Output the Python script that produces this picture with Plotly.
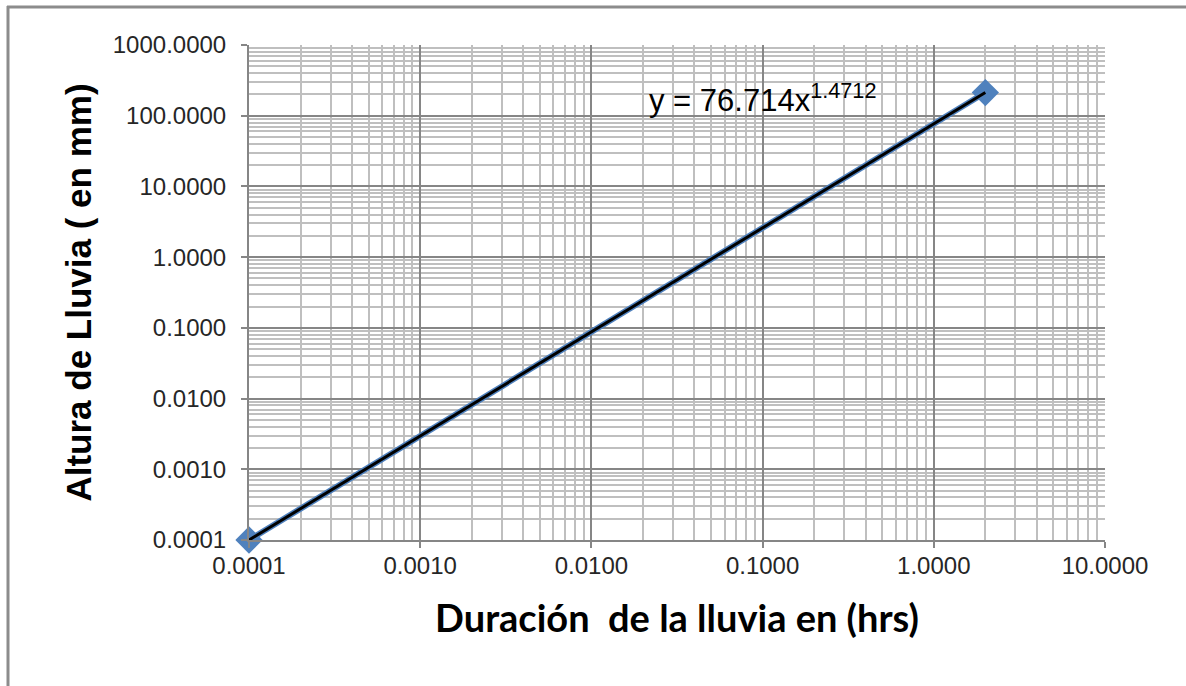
import plotly.graph_objects as go

# Data
duracion_hrs = [0.0001, 2.0]
altura_mm = [0.0001, 212.7]
trend_a = 76.714
trend_b = 1.4712
trend_x = [0.0001, 2.0]
trend_y = [trend_a * x ** trend_b for x in trend_x]

x_tickvals = [0.0001, 0.001, 0.01, 0.1, 1, 10]
x_ticktext = ["0.0001", "0.0010", "0.0100", "0.1000", "1.0000", "10.0000"]
y_tickvals = [0.0001, 0.001, 0.01, 0.1, 1, 10, 100, 1000]
y_ticktext = ["0.0001", "0.0010", "0.0100", "0.1000", "1.0000", "10.0000", "100.0000", "1000.0000"]

W, H = 1186, 686
L, R, T, B = 249, 1105, 45, 540

fig = go.Figure()
fig.add_trace(go.Scatter(
    x=duracion_hrs, y=altura_mm, mode="lines+markers",
    line=dict(color="#4F81BD", width=6),
    marker=dict(symbol="diamond", size=21, color="#4F81BD"),
    cliponaxis=False, showlegend=False))
fig.add_trace(go.Scatter(
    x=trend_x, y=trend_y, mode="lines",
    line=dict(color="#000000", width=3),
    cliponaxis=False, showlegend=False))

axis_common = dict(
    type="log", showline=True, linecolor="#868686", linewidth=2,
    ticks="outside", ticklen=6, tickcolor="#868686", tickwidth=2,
    showgrid=True, gridcolor="#868686", gridwidth=2,
    minor=dict(dtick="D1", showgrid=True, gridcolor="#BFBFBF", gridwidth=2, ticks=""),
    tickfont=dict(family="Liberation Sans, Arial", size=24, color="#262626"),
    zeroline=False, mirror=False,
)

fig.update_layout(
    width=W, height=H,
    margin=dict(l=L, r=W - R, t=T, b=H - B),
    paper_bgcolor="white", plot_bgcolor="white",
    xaxis=dict(axis_common, range=[-4, 1], tickvals=x_tickvals, ticktext=x_ticktext,
               ticklabelstandoff=-3,
               title=dict(text="<b>Duración&nbsp; de la lluvia en (hrs)</b>",
                          font=dict(family="Lato, Open Sans", size=38, color="#000000"),
                          standoff=28)),
    yaxis=dict(axis_common, range=[-4, 3], tickvals=y_tickvals, ticktext=y_ticktext,
               ticklabelstandoff=10,
               title=dict(text="<b>Altura de Lluvia ( en mm)</b>",
                          font=dict(family="Liberation Sans, Arial", size=35, color="#000000"),
                          standoff=10)),
    annotations=[dict(
        x=(647 - L) / (R - L), y=(B - 98) / (B - T), xref="paper", yref="paper",
        xanchor="left", yanchor="middle", showarrow=False,
        text="y = 76.714x<sup>1.4712</sup>",
        font=dict(family="Liberation Sans, Arial", size=31, color="#000000"))],
    shapes=[
        dict(type="line", xref="paper", yref="paper",
             x0=(7 - L) / (R - L), x1=(W + 5 - L) / (R - L),
             y0=(B - 7) / (B - T), y1=(B - 7) / (B - T),
             line=dict(color="#8C8C8C", width=3)),
        dict(type="line", xref="paper", yref="paper",
             x0=(8 - L) / (R - L), x1=(8 - L) / (R - L),
             y0=(B - 6) / (B - T), y1=(B - H - 5) / (B - T),
             line=dict(color="#8C8C8C", width=3)),
    ],
)

fig.write_html("out.html")
